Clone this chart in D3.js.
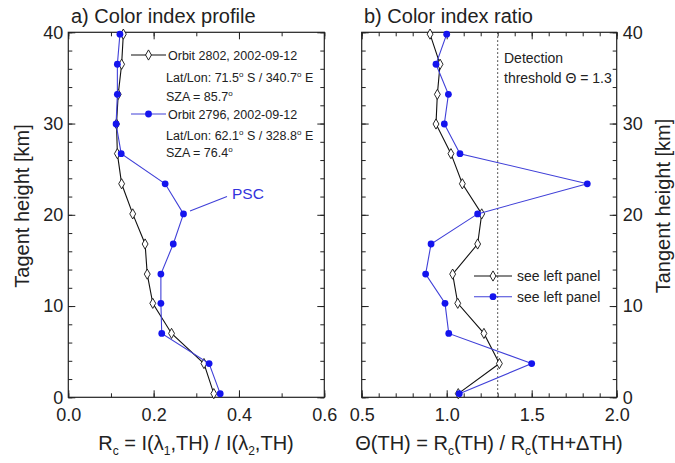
<!DOCTYPE html>
<html>
<head>
<meta charset="utf-8">
<script src="https://cdn.jsdelivr.net/npm/d3@7"></script>
<style>
body { margin: 0; background: #fff; }
text { font-family: "Liberation Sans", Arial, sans-serif; }
</style>
</head>
<body>
<div id="grafico"></div>
<script>
// Datos
var heights = [0.4, 3.7, 7.0, 10.3, 13.5, 16.8, 20.1, 23.4, 26.7, 29.95, 33.2, 36.5, 39.8];
var rc2802 = [0.341, 0.318, 0.242, 0.198, 0.185, 0.180, 0.151, 0.125, 0.115, 0.113, 0.117, 0.125, 0.129];
var rc2796 = [0.356, 0.330, 0.219, 0.217, 0.217, 0.246, 0.270, 0.227, 0.124, 0.112, 0.115, 0.115, 0.121];
var ratio2802 = [1.068, 1.31, 1.219, 1.065, 1.035, 1.182, 1.206, 1.092, 1.025, 0.937, 0.945, 0.961, 0.902];
var ratio2796 = [1.074, 1.50, 1.012, 0.99, 0.876, 0.908, 1.182, 1.827, 1.078, 0.986, 1.01, 0.937, 1.0];
var threshold = 1.3;
var leftXTicks = [0.0, 0.2, 0.4, 0.6];
var rightXTicks = [0.5, 1.0, 1.5, 2.0];
var yTicks = [0, 10, 20, 30, 40];

var width = 675, height = 463;
var top_ = 32.3, bottom_ = 397.3;

var svg = d3.select("#grafico")
  .append("svg")
    .attr("width", width)
    .attr("height", height);

var y = d3.scaleLinear().domain([0, 40]).range([bottom_, top_]);
var xL = d3.scaleLinear().domain([0, 0.6]).range([68.3, 324.3]);
var xR = d3.scaleLinear().domain([0.5, 2.0]).range([361.7, 616.7]);

var blueLine = "#4040d8", blueDot = "#1414ee";

// Ejes con ticks hacia dentro en los cuatro lados
function frame(x, majorX, minorStep, labelLeft, labelRight) {
  var g = svg.append("g");
  var x0 = x.range()[0], x1 = x.range()[1];
  var minorX = d3.range(x.domain()[0], x.domain()[1] + 1e-9, minorStep);
  var minorY = d3.range(0, 41, 2);
  var fs = "18px";

  // abajo
  g.append("g").attr("transform", "translate(0," + bottom_ + ")")
    .call(d3.axisBottom(x).tickValues(minorX).tickSize(-4).tickFormat(""));
  g.append("g").attr("transform", "translate(0," + bottom_ + ")")
    .call(d3.axisBottom(x).tickValues(majorX).tickSize(-7).tickPadding(11).tickFormat(d3.format(".1f")))
    .selectAll("text").style("font-size", fs).attr("fill", "#222");
  // arriba
  g.append("g").attr("transform", "translate(0," + top_ + ")")
    .call(d3.axisTop(x).tickValues(minorX).tickSize(-4).tickFormat(""));
  g.append("g").attr("transform", "translate(0," + top_ + ")")
    .call(d3.axisTop(x).tickValues(majorX).tickSize(-7).tickFormat(""));
  // izquierda
  g.append("g").attr("transform", "translate(" + x0 + ",0)")
    .call(d3.axisLeft(y).tickValues(minorY).tickSize(-4).tickFormat(""));
  var la = g.append("g").attr("transform", "translate(" + x0 + ",0)")
    .call(d3.axisLeft(y).tickValues(yTicks).tickSize(-7).tickPadding(5).tickFormat(labelLeft ? d3.format("d") : ""));
  la.selectAll("text").style("font-size", fs).attr("fill", "#222");
  // derecha
  g.append("g").attr("transform", "translate(" + x1 + ",0)")
    .call(d3.axisRight(y).tickValues(minorY).tickSize(-4).tickFormat(""));
  var ra = g.append("g").attr("transform", "translate(" + x1 + ",0)")
    .call(d3.axisRight(y).tickValues(yTicks).tickSize(-7).tickPadding(6).tickFormat(labelRight ? d3.format("d") : ""));
  ra.selectAll("text").style("font-size", fs).attr("fill", "#222");

  g.selectAll(".domain").remove();
  g.selectAll(".tick line").attr("stroke", "#222");
  g.append("rect")
    .attr("x", x0).attr("y", top_)
    .attr("width", x1 - x0).attr("height", bottom_ - top_)
    .attr("fill", "none").attr("stroke", "#222").attr("stroke-width", 1.2);
}

frame(xL, leftXTicks, 0.1, true, false);
frame(xR, rightXTicks, 0.1, false, true);

// Series
function series(x, vals, isBlue) {
  var pts = heights.map(function(h, i) { return {h: h, v: vals[i]}; });
  var line = d3.line()
    .x(function(d) { return x(d.v); })
    .y(function(d) { return y(d.h); });
  svg.append("path")
    .datum(pts)
    .attr("fill", "none")
    .attr("stroke", isBlue ? blueLine : "#111")
    .attr("stroke-width", 1.1)
    .attr("d", line);
  if (isBlue) {
    svg.append("g").selectAll("circle")
      .data(pts).enter().append("circle")
      .attr("cx", function(d) { return x(d.v); })
      .attr("cy", function(d) { return y(d.h); })
      .attr("r", 3.4)
      .attr("fill", blueDot);
  } else {
    svg.append("g").selectAll("path")
      .data(pts).enter().append("path")
      .attr("d", d3.symbol().type(d3.symbolDiamond).size(30))
      .attr("transform", function(d) { return "translate(" + x(d.v) + "," + y(d.h) + ")"; })
      .attr("fill", "#fff")
      .attr("stroke", "#111")
      .attr("stroke-width", 0.9);
  }
}

// linea de umbral
svg.append("line")
  .attr("x1", xR(threshold)).attr("x2", xR(threshold))
  .attr("y1", top_).attr("y2", bottom_)
  .attr("stroke", "#222")
  .attr("stroke-width", 1)
  .attr("stroke-dasharray", "1.5,2.5");

series(xL, rc2802, false);
series(xL, rc2796, true);
series(xR, ratio2802, false);
series(xR, ratio2796, true);

// Leyendas
function legendItem(x1, x2, yy, isBlue) {
  svg.append("line")
    .attr("x1", x1).attr("x2", x2).attr("y1", yy).attr("y2", yy)
    .attr("stroke", isBlue ? blueLine : "#111").attr("stroke-width", 1.1);
  var mx = (x1 + x2) / 2;
  if (isBlue) {
    svg.append("circle").attr("cx", mx).attr("cy", yy).attr("r", 3.4).attr("fill", blueDot);
  } else {
    svg.append("path")
      .attr("d", d3.symbol().type(d3.symbolDiamond).size(30))
      .attr("transform", "translate(" + mx + "," + yy + ")")
      .attr("fill", "#fff").attr("stroke", "#111").attr("stroke-width", 0.9);
  }
}

// texto con superindices "o" (grados)
function degText(xx, yy, parts, size) {
  var t = svg.append("text").attr("x", xx).attr("y", yy)
    .style("font-size", (size || 12.5) + "px").attr("fill", "#222");
  var shift = 0;
  parts.forEach(function(p) {
    if (typeof p === "object") {
      t.append("tspan").attr("dy", -5 - shift).style("font-size", "8px").text(p.sup);
      shift = -5;
    } else {
      t.append("tspan").attr("dy", -shift).text(p);
      shift = 0;
    }
  });
}

legendItem(131, 166, 55, false);
degText(168, 59.5, ["Orbit 2802, 2002-09-12"]);
degText(166, 82, ["Lat/Lon: 71.5", {sup: "o"}, " S / 340.7", {sup: "o"}, " E"]);
degText(166, 100.5, ["SZA = 85.7", {sup: "o"}]);
legendItem(131, 166, 114, true);
degText(168, 118.5, ["Orbit 2796, 2002-09-12"]);
degText(166, 139.5, ["Lat/Lon: 62.1", {sup: "o"}, " S / 328.8", {sup: "o"}, " E"]);
degText(166, 157, ["SZA = 76.4", {sup: "o"}]);

legendItem(474, 512, 276, false);
degText(517, 281, ["see left panel"], 14);
legendItem(474, 512, 296.7, true);
degText(517, 301.5, ["see left panel"], 14);

degText(504, 63, ["Detection"], 14);
degText(504, 82.5, ["threshold \u0398 = 1.3"], 14);

// Anotacion PSC
svg.append("line")
  .attr("x1", 190).attr("y1", 211).attr("x2", 227).attr("y2", 196.5)
  .attr("stroke", blueLine).attr("stroke-width", 1.1);
svg.append("text")
  .attr("x", 232).attr("y", 199)
  .style("font-size", "15.5px").attr("fill", "#3333dd")
  .text("PSC");

// Titulos
svg.append("text").attr("x", 71).attr("y", 23)
  .style("font-size", "20px").attr("fill", "#222").text("a) Color index profile");
svg.append("text").attr("x", 364).attr("y", 23)
  .style("font-size", "20px").attr("fill", "#222").text("b) Color index ratio");

svg.append("text")
  .attr("text-anchor", "middle")
  .attr("transform", "translate(29,206) rotate(-90)")
  .style("font-size", "20px").attr("fill", "#222")
  .text("Tagent height [km]");
svg.append("text")
  .attr("text-anchor", "middle")
  .attr("transform", "translate(670,206) rotate(-90)")
  .style("font-size", "20px").attr("fill", "#222")
  .text("Tangent height [km]");

// Titulos eje x con subindices
function xTitle(cx, parts) {
  var t = svg.append("text")
    .attr("x", cx).attr("y", 450)
    .attr("text-anchor", "middle")
    .style("font-size", "20px").attr("fill", "#222");
  var shift = 0;
  parts.forEach(function(p) {
    if (typeof p === "object") {
      t.append("tspan").attr("dy", 5 - shift).style("font-size", "12px").text(p.sub);
      shift = 5;
    } else {
      t.append("tspan").attr("dy", -shift).text(p);
      shift = 0;
    }
  });
}
xTitle(196, ["R", {sub: "c"}, " = I(\u03bb", {sub: "1"}, ",TH) / I(\u03bb", {sub: "2"}, ",TH)"]);
xTitle(489, ["\u0398(TH) = R", {sub: "c"}, "(TH) / R", {sub: "c"}, "(TH+\u0394TH)"]);
</script>
</body>
</html>
